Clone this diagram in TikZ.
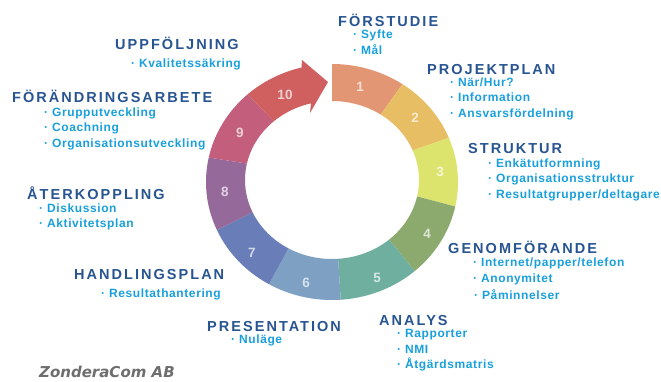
\documentclass[tikz,border=0pt]{standalone}
\usepackage{fontspec}
\setmainfont{Liberation Sans}
\newfontfamily\titlefont{Liberation Sans}[LetterSpace=14]
\newfontfamily\itemfont{Liberation Sans}[LetterSpace=5]
\newfontfamily\zfont{DejaVu Sans}
\definecolor{titleblue}{RGB}{40,85,145}
\definecolor{itemblue}{RGB}{25,160,220}
\definecolor{cA}{RGB}{226,150,115}
\definecolor{cB}{RGB}{232,190,100}
\definecolor{cC}{RGB}{220,228,110}
\definecolor{cD}{RGB}{140,170,110}
\definecolor{cE}{RGB}{110,175,160}
\definecolor{cF}{RGB}{125,160,195}
\definecolor{cG}{RGB}{105,125,185}
\definecolor{cH}{RGB}{150,105,155}
\definecolor{cI}{RGB}{195,95,125}
\definecolor{cJ}{RGB}{208,95,95}
\newcommand\ringseg[3]{\fill[#3] plot[domain=#1:#2,samples=30] ({332+126*cos(\x)},{182-118*sin(\x)}) -- plot[domain=#2:#1,samples=30] ({332+87*cos(\x)},{180-79*sin(\x)}) -- cycle;}
\tikzset{
  ttl/.style={anchor=base west, inner sep=0pt, text=titleblue, font=\titlefont\bfseries\fontsize{14.5}{16}\selectfont},
  itm/.style={anchor=base west, inner sep=0pt, text=itemblue, font=\itemfont\bfseries\fontsize{12}{14}\selectfont},
  num/.style={inner sep=0pt, text=white, text opacity=0.7, font=\bfseries\fontsize{13.5}{14}\selectfont}
}
\begin{document}
\begin{tikzpicture}[x=1pt,y=-1pt]
\useasboundingbox (0,0) rectangle (661,381);
\fill[white] (0,0) rectangle (661,381);
% ring
\ringseg{90}{56}{cA}
\ringseg{56}{22}{cB}
\ringseg{22}{-12}{cC}
\ringseg{-12}{-49}{cD}
\ringseg{-49}{-86}{cE}
\ringseg{-86}{-120}{cF}
\ringseg{-120}{-156}{cG}
\ringseg{-156}{-192}{cH}
\ringseg{-192}{-228}{cI}
\fill[cJ] plot[domain=132:104,samples=20] ({332+126*cos(\x)},{182-118*sin(\x)})
  -- (302,60) -- (328,82) -- (310,113)
  -- plot[domain=104:132,samples=20] ({332+87*cos(\x)},{180-79*sin(\x)}) -- cycle;
% numbers
\node[num] (n1) at (360,87) {1};
\node[num] (n2) at (415,118) {2};
\node[num] (n3) at (440,172) {3};
\node[num] (n4) at (427,234) {4};
\node[num] (n5) at (377,278) {5};
\node[num] (n6) at (306,283) {6};
\node[num] (n7) at (252,253) {7};
\node[num] (n8) at (225,192) {8};
\node[num] (n9) at (240,133) {9};
\node[num] (n10) at (285,95) {10};
% titles
\node[ttl] (t1) at (338,26) {FÖRSTUDIE};
\node[ttl] (t2) at (427,74) {PROJEKTPLAN};
\node[ttl] (t3) at (468,153) {STRUKTUR};
\node[ttl] (t4) at (448,253) {GENOMFÖRANDE};
\node[ttl] (t5) at (379,325) {ANALYS};
\node[ttl] (t6) at (207,331) {PRESENTATION};
\node[ttl] (t7) at (74,279) {HANDLINGSPLAN};
\node[ttl] (t8) at (27,199) {ÅTERKOPPLING};
\node[ttl] (t9) at (12,102) {FÖRÄNDRINGSARBETE};
\node[ttl] (t10) at (115,49) {UPPFÖLJNING};
% items
\node[itm] (i1a) at (353,38) {· Syfte};
\node[itm] (i1b) at (353,54) {· Mål};
\node[itm] (i2a) at (450,86) {· När/Hur?};
\node[itm] (i2b) at (450,101.5) {· Information};
\node[itm] (i2c) at (450,117) {· Ansvarsfördelning};
\node[itm] (i3a) at (488,167) {· Enkätutformning};
\node[itm] (i3b) at (488,182) {· Organisationsstruktur};
\node[itm] (i3c) at (488,198) {· Resultatgrupper/deltagare};
\node[itm] (i4a) at (473,266) {· Internet/papper/telefon};
\node[itm] (i4b) at (473,282) {· Anonymitet};
\node[itm] (i4c) at (474,299) {· Påminnelser};
\node[itm] (i5a) at (397,337) {· Rapporter};
\node[itm] (i5b) at (397,353) {· NMI};
\node[itm] (i5c) at (397,368) {· Åtgärdsmatris};
\node[itm] (i6a) at (231,343) {· Nuläge};
\node[itm] (i7a) at (101,297) {· Resultathantering};
\node[itm] (i8a) at (39,212) {· Diskussion};
\node[itm] (i8b) at (39,227) {· Aktivitetsplan};
\node[itm] (i9a) at (44,116) {· Grupputveckling};
\node[itm] (i9b) at (44,131) {· Coachning};
\node[itm] (i9c) at (44,147) {· Organisationsutveckling};
\node[itm] (i10a) at (131,67) {· Kvalitetssäkring};
% footer
\node[anchor=base west, inner sep=0pt, text={rgb,255:red,110;green,110;blue,110}, font=\zfont\bfseries\itshape\fontsize{15}{16}\selectfont] (zc) at (39,377) {ZonderaCom AB};
\end{tikzpicture}
\end{document}
